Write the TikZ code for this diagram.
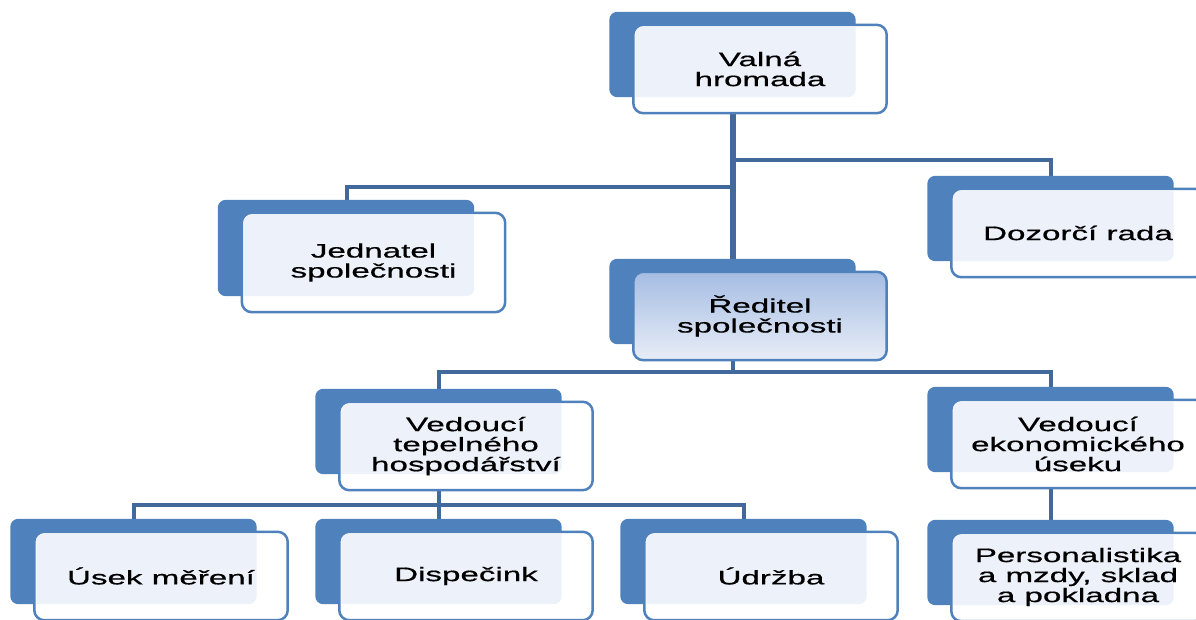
\documentclass[tikz,border=0pt]{standalone}
\usepackage{fontspec}
\setmainfont{Liberation Sans}[FakeStretch=1.7,FakeBold=0.6]
\usetikzlibrary{calc}
\definecolor{backblue}{HTML}{4F81BD}
\definecolor{frontline}{HTML}{4F81BD}
\definecolor{lightfill}{HTML}{EDF1F9}
\definecolor{connblue}{HTML}{41699C}
\definecolor{gradtop}{HTML}{A5BDE3}
\definecolor{gradbot}{HTML}{E8EDF7}
\pgfdeclarelayer{connlayer}
\pgfdeclarelayer{boxlayer}
\pgfsetlayers{connlayer,boxlayer,main}
\tikzset{
  orgtext/.style={minimum width=253pt, minimum height=88pt, inner sep=0pt, align=center,
    font=\fontsize{19.5}{20}\selectfont, text=black},
  backbox/.style={fill=backblue, rounded corners=8pt},
  frontbox/.style={draw=frontline, line width=2.5pt, rounded corners=10pt},
  lightpart/.style={fill=lightfill, rounded corners=8pt},
  conn/.style={draw=connblue, line width=4pt},
  trunk/.style={draw=connblue, line width=6pt},
}
\newcommand\orgshapes[3]{%
  \coordinate (#1top) at ([xshift=-27pt,yshift=13pt]#1.north);
  \coordinate (#1bot) at ([xshift=-27pt]#1.south);
  \begin{pgfonlayer}{boxlayer}
    \path[backbox] ([xshift=-24pt,yshift=13pt]#1.north west) rectangle ([xshift=-31pt,yshift=16pt]#1.south east);
    \path[frontbox,#2] (#1.north west) rectangle (#1.south east);
    \begin{scope}
      \clip[rounded corners=8pt] ([xshift=-24pt,yshift=13pt]#1.north west) rectangle ([xshift=-31pt,yshift=16pt]#1.south east);
      \path[#3] ([xshift=2pt,yshift=-2pt]#1.north west) rectangle ([xshift=-2pt,yshift=2pt]#1.south east);
    \end{scope}
  \end{pgfonlayer}}
\newcommand\orgbox[4][]{%
  \node[orgtext,#1] (#2) at (#3) {#4};
  \orgshapes{#2}{fill=white}{lightpart}}
\newcommand\orgboxgrad[3]{%
  \node[orgtext] (#1) at (#2) {#3};
  \orgshapes{#1}{top color=gradtop, bottom color=gradbot}{}}
\begin{document}
\begin{tikzpicture}[x=1pt,y=-1pt]
\useasboundingbox (0,0) rectangle (1196,619);
\begin{pgfonlayer}{connlayer}
  \fill[white] (0,0) rectangle (1196,619);
\end{pgfonlayer}
\orgbox{valna}{760,69}{Valná\\hromada}
\orgbox[minimum width=263pt, minimum height=99pt]{jednatel}{373.5,262.5}{Jednatel\\společnosti}
\orgbox{dozorci}{1078,233}{Dozorčí rada}
\orgboxgrad{reditel}{760,316}{Ředitel\\společnosti}
\orgbox{tepelne}{466,446}{Vedoucí\\tepelného\\hospodářství}
\orgbox{ekonom}{1078,444}{Vedoucí\\ekonomického\\úseku}
\orgbox{usek}{161,576}{Úsek měření}
\orgbox{dispecink}{466,576}{Dispečink}
\orgbox{udrzba}{771,576}{Údržba}
\orgbox{person}{1078,577}{Personalistika\\a mzdy, sklad\\a pokladna}
\coordinate (busA) at (0,187);
\coordinate (busB) at (0,160);
\coordinate (busC) at (0,372);
\coordinate (busD) at (0,505);
\begin{pgfonlayer}{connlayer}
  \draw[trunk] (valnabot) -- (reditel.north -| valnabot);
  \draw[conn] (jednateltop) |- (valnabot |- busA);
  \draw[conn] (dozorcitop) |- (valnabot |- busB);
  \draw[conn] (reditelbot) -- (reditelbot |- busC);
  \draw[conn] (tepelnetop) |- (ekonomtop |- busC) -- (ekonomtop);
  \draw[conn] (tepelnebot) -- (dispecinktop);
  \draw[conn] (usektop) |- (udrzbatop |- busD) -- (udrzbatop);
  \draw[conn] (ekonombot) -- (persontop);
\end{pgfonlayer}
\end{tikzpicture}
\end{document}
